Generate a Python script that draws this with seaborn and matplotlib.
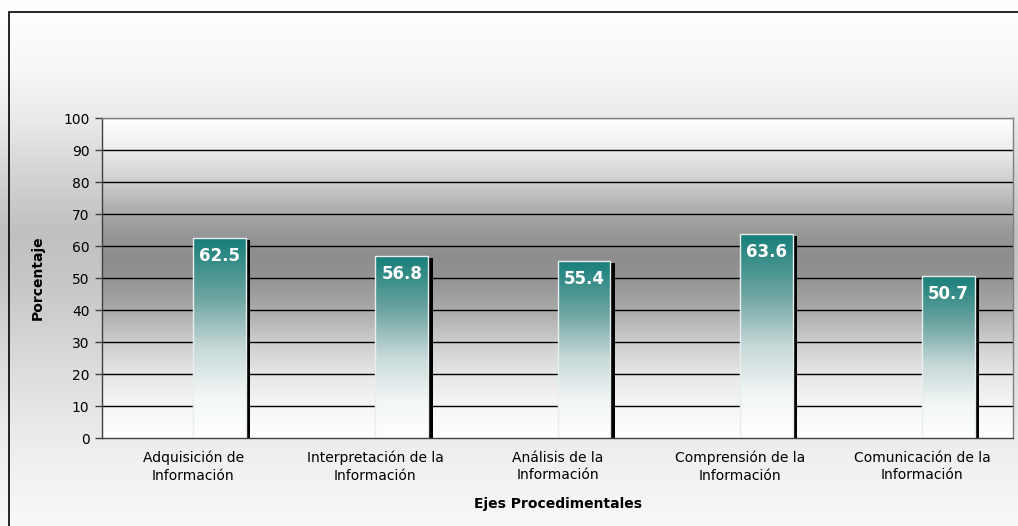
import numpy as np
import matplotlib
matplotlib.use("Agg")
import matplotlib.pyplot as plt
from matplotlib.colors import LinearSegmentedColormap
from matplotlib.patches import Rectangle
import pandas as pd
import seaborn as sns

categorias = ["Adquisición de\nInformación", "Interpretación de la\nInformación",
              "Análisis de la\nInformación", "Comprensión de la\nInformación",
              "Comunicación de la\nInformación"]
porcentajes = [62.5, 56.8, 55.4, 63.6, 50.7]
y_ticks = [0, 10, 20, 30, 40, 50, 60, 70, 80, 90, 100]

df = pd.DataFrame({"eje": categorias, "pct": porcentajes})

sns.set_style("white")
plt.rcParams["font.family"] = ["DejaVu Sans"]
plt.rcParams["text.color"] = "black"
plt.rcParams["axes.labelcolor"] = "black"
plt.rcParams["xtick.color"] = "black"
plt.rcParams["ytick.color"] = "black"

fig = plt.figure(figsize=(10.18, 5.26), dpi=100)

# fondo del area del grafico (degradado vertical, de arriba hacia abajo)
bg = fig.add_axes([0, 0, 1, 1], zorder=-2)
fig_cmap = LinearSegmentedColormap.from_list(
    "figbg", [(0.0, "#ffffff"), (0.12, "#f8f8f8"), (0.22, "#ebebeb"), (0.32, "#d6d6d6"),
              (0.44, "#c0c0c0"), (0.55, "#c8c8c8"), (0.7, "#dcdcdc"), (0.85, "#eeeeee"),
              (1.0, "#f8f8f8")])
grad = np.linspace(0, 1, 256).reshape(-1, 1)
bg.imshow(grad, cmap=fig_cmap, aspect="auto", extent=(0, 1, 0, 1), origin="upper")
bg.set_xlim(0, 1)
bg.set_ylim(0, 1)
bg.axis("off")
bg.add_patch(Rectangle((0.009, -0.05), 1.1, 1.027, fill=False, edgecolor="black", lw=1.2,
                       transform=bg.transAxes))

ax = fig.add_axes([102 / 1018, 88 / 526, 911 / 1018, 320 / 526])
sns.barplot(data=df, x="eje", y="pct", ax=ax, width=0.29, color="#1b7f7b", zorder=3)

ax.set_xlim(-0.5, 4.5)
ax.set_ylim(0, 100)
ax.patch.set_visible(False)

# degradado del area de trazado (de abajo hacia arriba)
plot_cmap = LinearSegmentedColormap.from_list(
    "plotbg", [(0.0, "#ffffff"), (0.1, "#f6f6f6"), (0.2, "#e6e6e6"), (0.3, "#cdcdcd"),
               (0.4, "#aaaaaa"), (0.5, "#939393"), (0.57, "#8d8d8d"), (0.65, "#999999"),
               (0.72, "#b0b0b0"), (0.8, "#cdcdcd"), (0.9, "#ececec"), (1.0, "#ffffff")])
ax.imshow(grad, cmap=plot_cmap, aspect="auto", extent=(-0.5, 4.5, 0, 100), origin="lower", zorder=0)

for yv in y_ticks[1:-1]:
    ax.axhline(yv, color="black", lw=1, zorder=1)
ax.axhline(100, color="#808080", lw=1, zorder=1)

bar_cmap = LinearSegmentedColormap.from_list(
    "bar", [(0.0, "#ffffff"), (0.2, "#f4f7f7"), (0.45, "#c6d9d8"), (0.7, "#6ea5a2"), (1.0, "#167e79")])

for p, v in zip(ax.patches, porcentajes):
    p.set_x(p.get_x() + 0.145)
    x0, w = p.get_x(), p.get_width()
    h = p.get_height()
    # sombra negra
    ax.add_patch(Rectangle((x0 + w, 0), 0.024, h - 0.6, facecolor="black", edgecolor="none", zorder=2))
    img = ax.imshow(grad, cmap=bar_cmap, aspect="auto", extent=(x0, x0 + w, 0, h), origin="lower", zorder=3)
    img.set_clip_path(p)
    p.set_facecolor("none")
    p.set_edgecolor("#e8eeee")
    p.set_linewidth(1)
    p.set_zorder(4)
    ax.text(x0 + w / 2, h - 2.8, f"{v:.1f}", ha="center", va="top", color="white",
            fontsize=12, fontweight="bold", zorder=5)

ax.set_xlim(-0.5, 4.5)
ax.set_ylim(0, 100)
ax.set_yticks(y_ticks)
ax.set_yticklabels([str(t) for t in y_ticks], fontsize=10)
ax.set_xticks(range(len(categorias)))
ax.set_xticklabels(categorias, fontsize=10, linespacing=1.35)
ax.set_xticks(np.arange(-0.5, 5, 1), minor=True)
ax.tick_params(axis="x", which="major", length=0, pad=9)
ax.tick_params(axis="x", which="minor", length=5, color="#404040", width=1, direction="out")
ax.tick_params(axis="y", length=5, color="#404040", width=1, direction="out", left=True, pad=4)

for s in ["left", "bottom", "right", "top"]:
    ax.spines[s].set_visible(True)
ax.spines["left"].set_color("#404040")
ax.spines["bottom"].set_color("#404040")
ax.spines["right"].set_color("#808080")
ax.spines["top"].set_color("#808080")
for s in ax.spines.values():
    s.set_linewidth(1)
    s.set_zorder(6)

ax.set_xlabel("Ejes Procedimentales", fontsize=10, fontweight="bold", labelpad=10)
ax.set_ylabel("Porcentaje", fontsize=10, fontweight="bold", labelpad=13)

fig.savefig("out.png", dpi=100)
